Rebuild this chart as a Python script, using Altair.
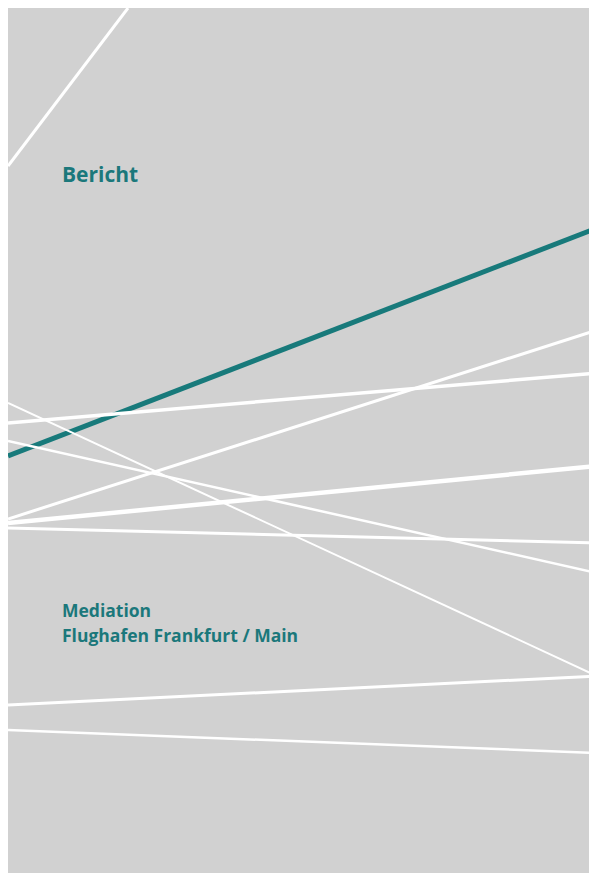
import altair as alt
import pandas as pd

# line segments (coordinates in cover units, origin top-left)
x_start = [0, 0, 0, 0, 0, 0, 0, 0, 0, 0]
y_start = [158, 448, 415, 395, 433, 511, 515, 520, 697, 722]
x_end = [120, 589, 589, 589, 589, 589, 589, 589, 589, 589]
y_end = [0, 220, 365, 668, 565, 322, 458, 535, 668, 745]
widths = [3, 5, 3.5, 2, 2.5, 3, 4.5, 3, 3, 2.5]
colors = ["#ffffff", "#187a7b", "#ffffff", "#ffffff", "#ffffff",
          "#ffffff", "#ffffff", "#ffffff", "#ffffff", "#ffffff"]

texts = ["Bericht", "Mediation", "Flughafen Frankfurt / Main"]
text_x = [54, 54, 54]
text_y = [174, 609, 634]
text_size = [21, 17.5, 17.5]

lines = pd.DataFrame({"x": x_start, "y": y_start, "x2": x_end, "y2": y_end,
                      "w": widths, "c": colors})
labels = pd.DataFrame({"t": texts, "x": text_x, "y": text_y, "s": text_size})

xs = alt.Scale(domain=[0, 581], nice=False, zero=False)
ys = alt.Scale(domain=[0, 865], nice=False, zero=False, reverse=True)

rules = alt.Chart(lines).mark_rule(strokeCap="butt", clip=True).encode(
    x=alt.X("x:Q", scale=xs, axis=None),
    y=alt.Y("y:Q", scale=ys, axis=None),
    x2="x2:Q",
    y2="y2:Q",
    strokeWidth=alt.StrokeWidth("w:Q", scale=None, legend=None),
    color=alt.Color("c:N", scale=None, legend=None),
)

txt = alt.Chart(labels).mark_text(
    align="left", baseline="alphabetic", font="Open Sans", fontWeight="bold",
    color="#1b787b"
).encode(
    x=alt.X("x:Q", scale=xs, axis=None),
    y=alt.Y("y:Q", scale=ys, axis=None),
    text="t:N",
    size=alt.Size("s:Q", scale=None, legend=None),
)

chart = alt.layer(rules, txt).properties(
    width=581, height=865, padding=0, background="#d1d1d1"
).configure_view(stroke=None, fill="#d1d1d1")

chart.save("out.html", embed_options={"renderer": "svg", "actions": False})
